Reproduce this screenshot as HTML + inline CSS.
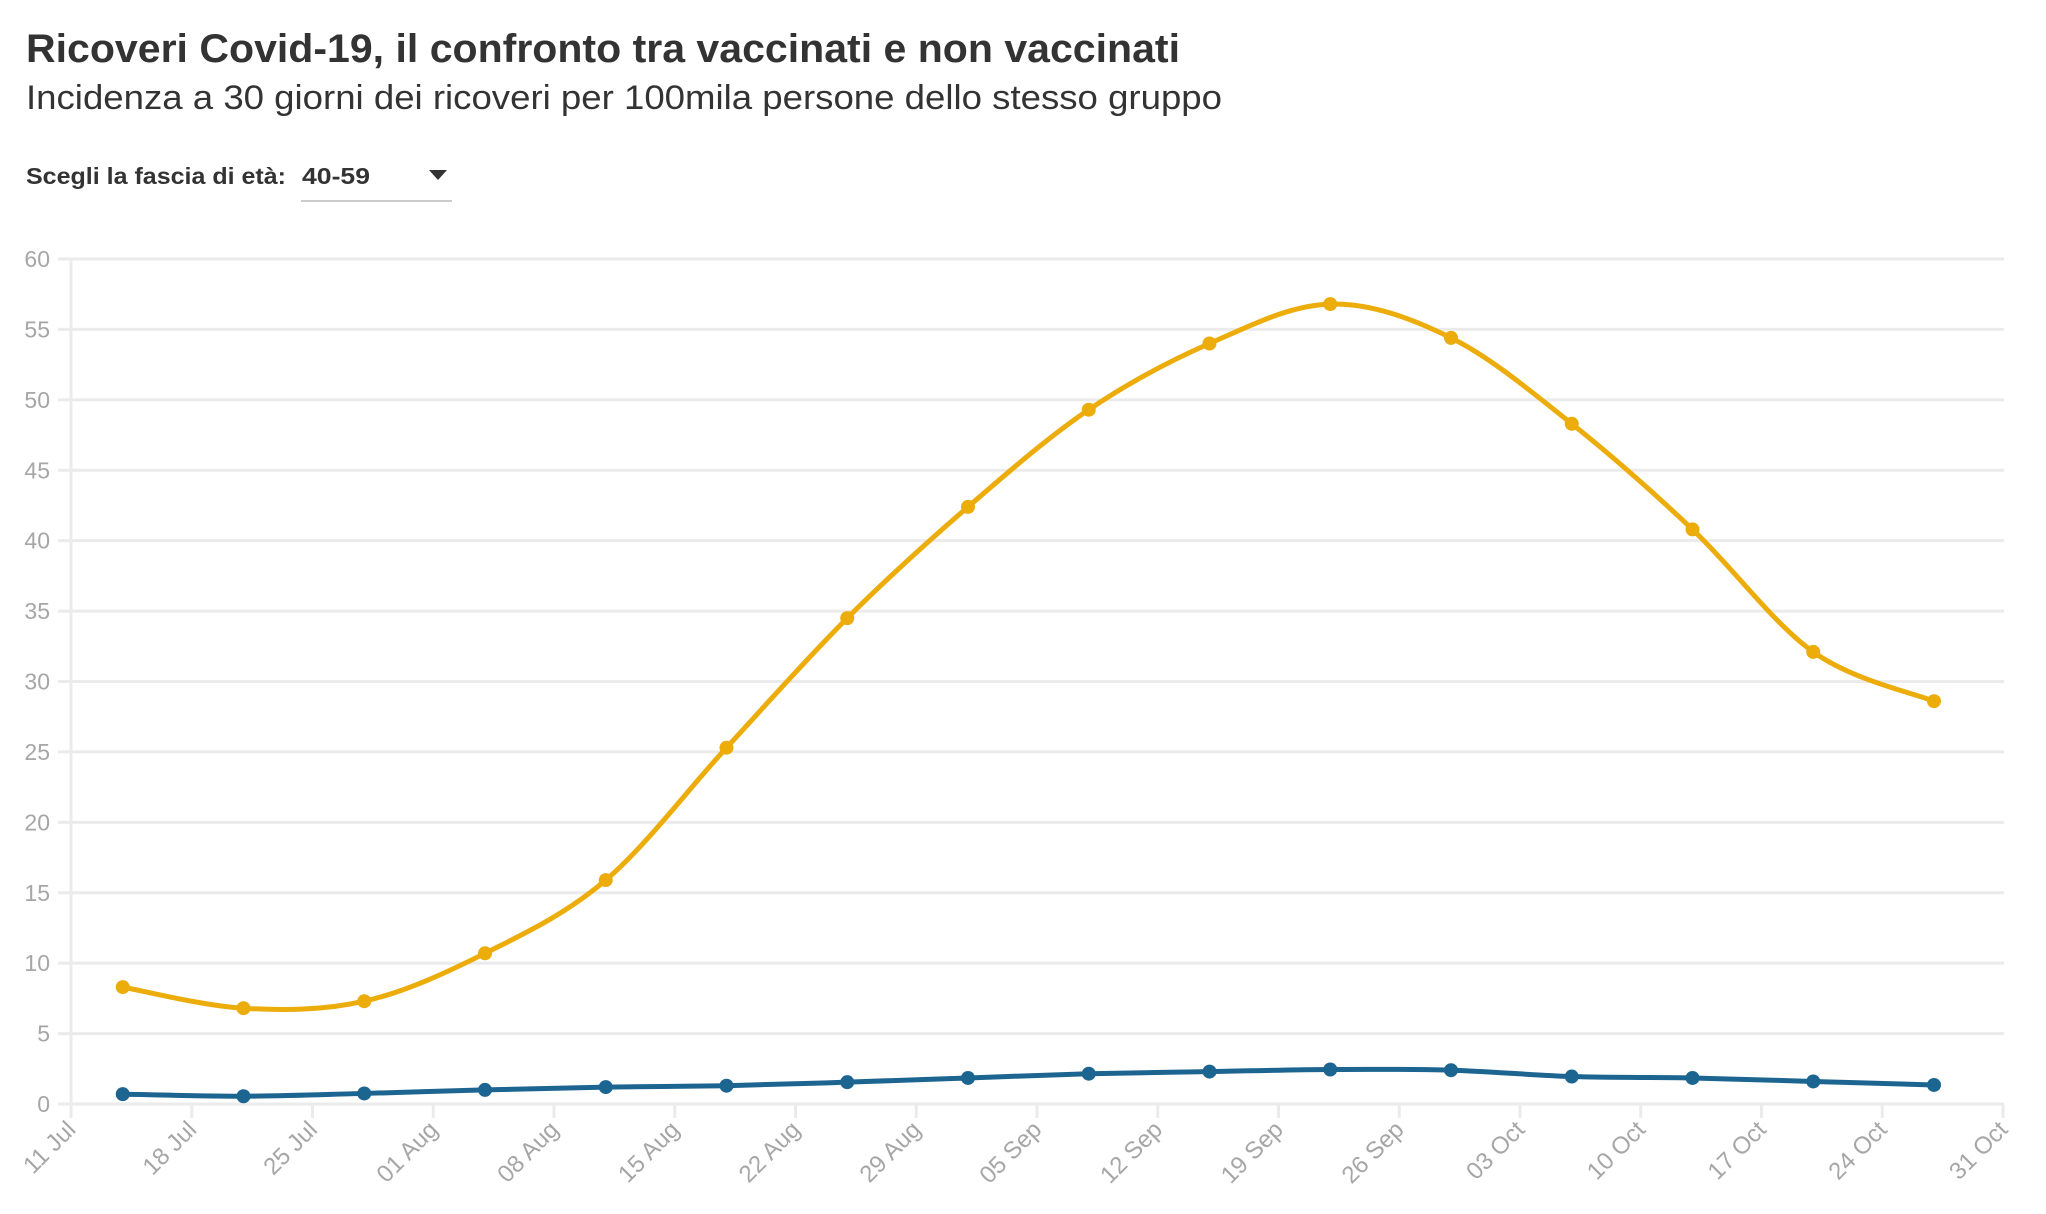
<!DOCTYPE html>
<html><head><meta charset="utf-8">
<style>
html,body{margin:0;padding:0;background:#fff;}
svg{display:block;font-family:"Liberation Sans",sans-serif;}
</style></head>
<body>
<svg id="chart" width="2046" height="1214" viewBox="0 0 2046 1214" xmlns="http://www.w3.org/2000/svg">
  <text x="26" y="62" font-size="40" font-weight="bold" fill="#333" textLength="1154" lengthAdjust="spacingAndGlyphs">Ricoveri Covid-19, il confronto tra vaccinati e non vaccinati</text>
  <text x="26" y="109" font-size="34" fill="#333" textLength="1196" lengthAdjust="spacingAndGlyphs">Incidenza a 30 giorni dei ricoveri per 100mila persone dello stesso gruppo</text>
  <text x="26" y="184" font-size="23" font-weight="bold" fill="#333" textLength="260" lengthAdjust="spacingAndGlyphs">Scegli la fascia di età:</text>
  <g>
    <rect x="300" y="155" width="152" height="46" fill="#fff"/>
    <text x="302" y="184" font-size="23" font-weight="bold" fill="#333" textLength="68" lengthAdjust="spacingAndGlyphs">40-59</text>
    <polygon points="429,170 447,170 438,180" fill="#333"/>
    <line x1="301" y1="201" x2="452" y2="201" stroke="#ccc" stroke-width="2"/>
  </g>
  <g id="grid"></g>
  <g id="xaxis"></g>
  <g id="series"></g>
</svg>
<script>
const dates = ["14 Jul","21 Jul","28 Jul","04 Aug","11 Aug","18 Aug","25 Aug","01 Sep","08 Sep","15 Sep","22 Sep","29 Sep","06 Oct","13 Oct","20 Oct","27 Oct"];
const dayOffsets = [3,10,17,24,31,38,45,52,59,66,73,80,87,94,101,108];
const unvaccinated = [8.3,6.8,7.3,10.7,15.9,25.3,34.5,42.4,49.3,54.0,56.8,54.4,48.3,40.8,32.1,28.6];
const vaccinated = [0.7,0.55,0.75,1.0,1.2,1.3,1.55,1.85,2.15,2.3,2.45,2.4,1.95,1.85,1.6,1.35];
const yTicks = [0,5,10,15,20,25,30,35,40,45,50,55,60];
const xTickLabels = ["11 Jul","18 Jul","25 Jul","01 Aug","08 Aug","15 Aug","22 Aug","29 Aug","05 Sep","12 Sep","19 Sep","26 Sep","03 Oct","10 Oct","17 Oct","24 Oct","31 Oct"];

const NS="http://www.w3.org/2000/svg";
const X0=71, X1=2003, Y0=1104, Y60=259, DAYS=112;
const xs = d => X0 + (X1-X0)*d/DAYS;
const ys = v => Y0 - (Y0-Y60)*v/60;
function mk(tag, attrs, parent){const e=document.createElementNS(NS,tag);for(const k in attrs)e.setAttribute(k,attrs[k]);parent.appendChild(e);return e;}

const grid=document.getElementById('grid');
yTicks.forEach(t=>{
  const l=mk('line',{x1:58,x2:2004,y1:ys(t),y2:ys(t),stroke:'#ebebeb','stroke-width':3},grid);
  
  
  const tx=mk('text',{x:50,y:ys(t)+8,'text-anchor':'end','font-size':23,fill:'#a6a6a6'},grid);
  tx.textContent=t;
  
  
});
const ax=mk('line',{x1:X0,x2:X0,y1:Y60,y2:1118,stroke:'#ebebeb','stroke-width':3},grid);



const xa=document.getElementById('xaxis');
xTickLabels.forEach((lab,i)=>{
  const x=xs(i*7);
  const tk=mk('line',{x1:x,x2:x,y1:Y0,y2:1118,stroke:'#ebebeb','stroke-width':3},xa);
  
  
  const tx=mk('text',{x:x+6,y:1131,'text-anchor':'end','font-size':24,fill:'#a6a6a6',transform:`rotate(-45 ${x+6} 1131)`},xa);
  tx.textContent=lab;
  
  
});

function smoothPath(px,py){
  const n=px.length;
  let d=`M${px[0]},${py[0]}`;
  for(let i=0;i<n-1;i++){
    const p0x=px[Math.max(i-1,0)], p0y=py[Math.max(i-1,0)];
    const p3x=px[Math.min(i+2,n-1)], p3y=py[Math.min(i+2,n-1)];
    const c1x=px[i]+(px[i+1]-p0x)/6, c1y=py[i]+(py[i+1]-p0y)/6;
    const c2x=px[i+1]-(p3x-px[i])/6, c2y=py[i+1]-(p3y-py[i])/6;
    d+=` C${c1x},${c1y} ${c2x},${c2y} ${px[i+1]},${py[i+1]}`;
  }
  return d;
}
const sg=document.getElementById('series');
function drawSeries(vals,color,name){
  const g=mk('g',{},sg);
  
  
  const px=dayOffsets.map(xs), py=vals.map(ys);
  const p=mk('path',{d:smoothPath(px,py),fill:'none',stroke:color,'stroke-width':5,'stroke-linejoin':'round'},g);
  
  
  vals.forEach((v,i)=>{
    const c=mk('circle',{cx:px[i],cy:py[i],r:7,fill:color},g);
    
    
    const ti=mk('title',{},c); ti.textContent=dates[i]+': '+v;
  });
}
drawSeries(vaccinated,'#1d6591','vaccinated');
drawSeries(unvaccinated,'#ecac0a','unvaccinated');
</script>
</body></html>
